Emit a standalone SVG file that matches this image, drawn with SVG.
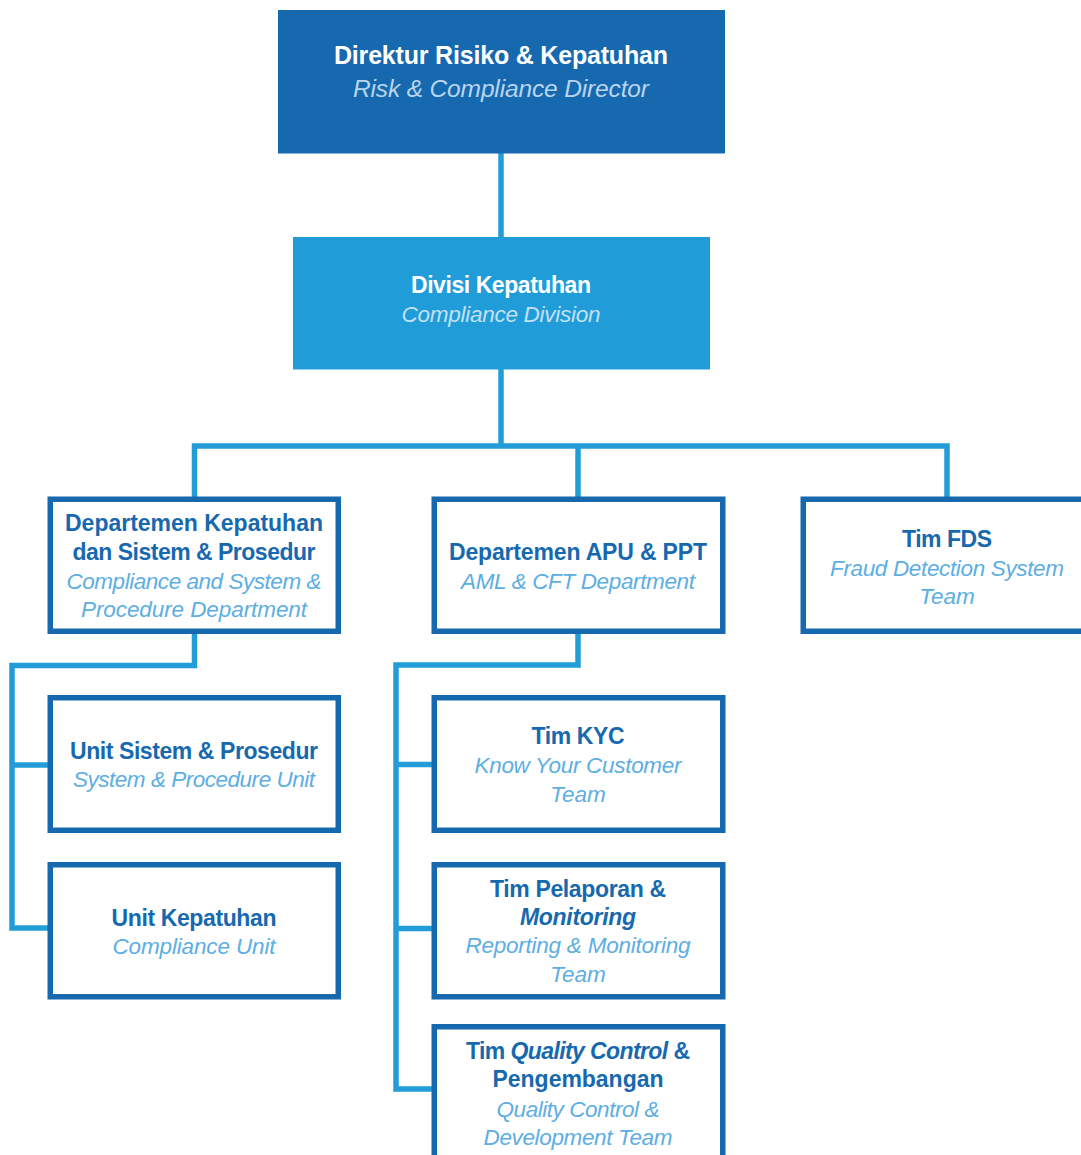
<svg xmlns="http://www.w3.org/2000/svg" width="1081" height="1155" viewBox="0 0 1081 1155">
<style>
.box{fill:#ffffff;stroke:#1769AF;stroke-width:5.5}
.t{font-family:"Liberation Sans",Arial,Helvetica,sans-serif;font-weight:bold;font-size:23px;fill:#1769AF;text-anchor:middle}
.s{font-family:"Liberation Sans",Arial,Helvetica,sans-serif;font-style:italic;font-size:22.5px;fill:#5DAEE3;text-anchor:middle}
.bi{font-style:italic}
.conn{fill:none;stroke:#229DD8;stroke-width:5.5;stroke-linejoin:miter;stroke-linecap:butt}
</style>
<rect width="1081" height="1155" fill="#ffffff"/>
<g id="connectors">
<path class="conn" d="M501 153 V238"/>
<path class="conn" d="M501 369 V446"/>
<path class="conn" d="M194.5 498 V446 H947 V498"/>
<path class="conn" d="M578 446 V498"/>
<path class="conn" d="M194.5 634 V665.5 H12 V928 H48"/>
<path class="conn" d="M12 765 H48"/>
<path class="conn" d="M578 634 V665 H396 V1089 H432"/>
<path class="conn" d="M396 764.5 H432"/>
<path class="conn" d="M396 928.5 H432"/>
</g>
<g id="director">
<rect x="278" y="10" width="447" height="143.5" fill="#1669AF"/>
<text class="t" x="501" y="64.3" style="font-size:25px;fill:#ffffff" textLength="334">Direktur Risiko &amp; Kepatuhan</text>
<text class="s" x="501" y="96.5" style="font-size:24.5px;fill:#B9D5EE" textLength="296">Risk &amp; Compliance Director</text>
</g>
<g id="division">
<rect x="293" y="237" width="417" height="132.5" fill="#209CD8"/>
<text class="t" x="501" y="292.7" style="fill:#ffffff" textLength="180">Divisi Kepatuhan</text>
<text class="s" x="501" y="321.5" style="fill:#C3E0F4" textLength="199">Compliance Division</text>
</g>
<g id="dept-compliance">
<rect class="box" x="50.25" y="499.25" width="288" height="132"/>
<text class="t" x="194" y="531" textLength="258">Departemen Kepatuhan</text>
<text class="t" x="194" y="560" textLength="243">dan Sistem &amp; Prosedur</text>
<text class="s" x="194" y="588.5" textLength="255">Compliance and System &amp;</text>
<text class="s" x="194" y="617" textLength="226">Procedure Department</text>
</g>
<g id="dept-apu">
<rect class="box" x="434.25" y="499.25" width="288.5" height="132"/>
<text class="t" x="578" y="560" textLength="258">Departemen APU &amp; PPT</text>
<text class="s" x="578" y="589" textLength="234">AML &amp; CFT Department</text>
</g>
<g id="tim-fds">
<rect class="box" x="803.25" y="499.25" width="288" height="132"/>
<text class="t" x="947" y="546.7" textLength="90">Tim FDS</text>
<text class="s" x="947" y="575.7" textLength="234">Fraud Detection System</text>
<text class="s" x="947" y="604">Team</text>
</g>
<g id="unit-sistem">
<rect class="box" x="50.25" y="697.75" width="288" height="132.5"/>
<text class="t" x="194" y="759.3" textLength="248">Unit Sistem &amp; Prosedur</text>
<text class="s" x="194" y="787" textLength="242">System &amp; Procedure Unit</text>
</g>
<g id="unit-kepatuhan">
<rect class="box" x="50.25" y="864.75" width="288" height="132"/>
<text class="t" x="194" y="925.7" textLength="165">Unit Kepatuhan</text>
<text class="s" x="194" y="953.5" textLength="163">Compliance Unit</text>
</g>
<g id="tim-kyc">
<rect class="box" x="434.25" y="697.75" width="288.5" height="132.5"/>
<text class="t" x="578" y="744.3" textLength="93">Tim KYC</text>
<text class="s" x="578" y="773.3" textLength="207">Know Your Customer</text>
<text class="s" x="578" y="801.7">Team</text>
</g>
<g id="tim-pelaporan">
<rect class="box" x="434.25" y="864.75" width="288.5" height="132"/>
<text class="t" x="578" y="896.7" textLength="176">Tim Pelaporan &amp;</text>
<text class="t bi" x="578" y="925" textLength="116">Monitoring</text>
<text class="s" x="578" y="953.3" textLength="225">Reporting &amp; Monitoring</text>
<text class="s" x="578" y="981.7">Team</text>
</g>
<g id="tim-qc">
<rect class="box" x="434.25" y="1026.75" width="288.5" height="200"/>
<text class="t" x="578" y="1059.3" textLength="224">Tim <tspan class="bi">Quality Control</tspan> &amp;</text>
<text class="t" x="578" y="1087" textLength="171">Pengembangan</text>
<text class="s" x="578" y="1116.7" textLength="163">Quality Control &amp;</text>
<text class="s" x="578" y="1145" textLength="189">Development Team</text>
</g>
</svg>
